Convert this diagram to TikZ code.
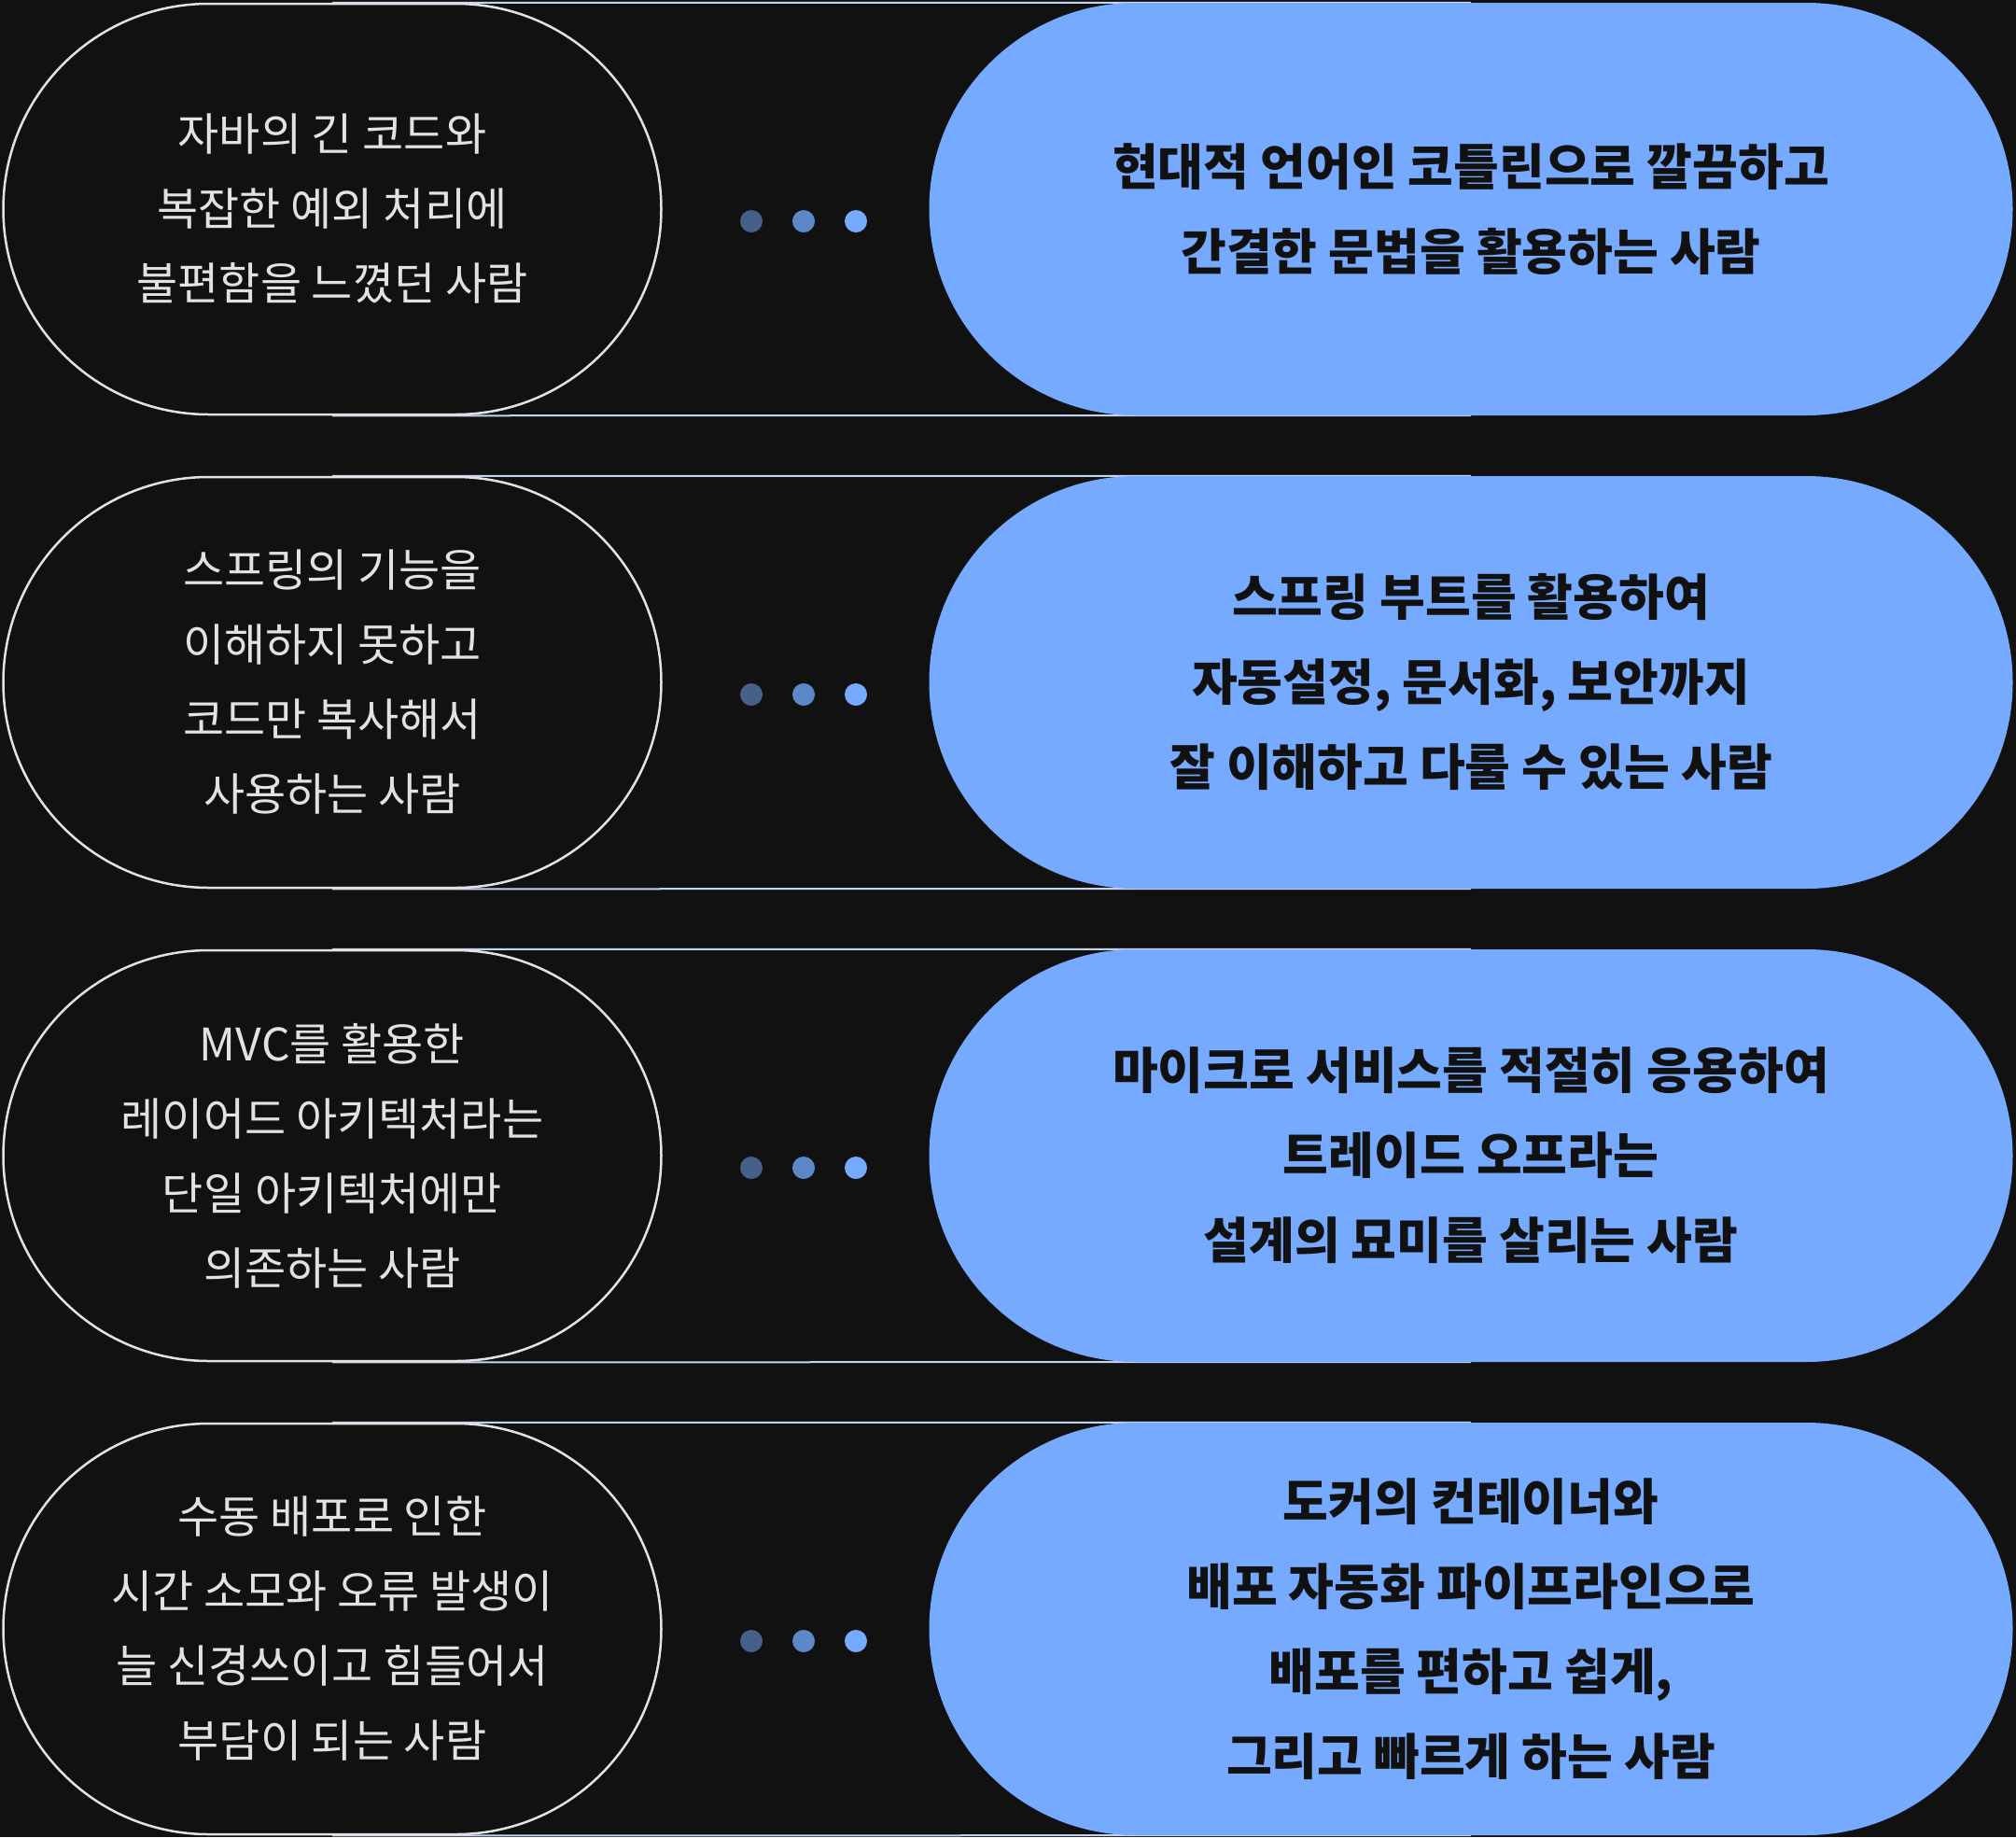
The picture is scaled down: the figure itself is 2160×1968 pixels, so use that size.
\documentclass[tikz,border=0pt]{standalone}
\usepackage{fontspec}
\setmainfont{Noto Sans CJK KR}
\usetikzlibrary{positioning,backgrounds}
\definecolor{colorbg}   {RGB}{17,17,17}
\definecolor{colorline} {RGB}{226,226,226}
\definecolor{colorlink} {RGB}{196,212,240}
\definecolor{colorblue} {RGB}{117,170,255}
\definecolor{colordot1} {RGB}{70,96,138}
\definecolor{colordot2} {RGB}{93,136,200}
\definecolor{colortext} {RGB}{17,17,17}

\begin{document}
\begin{tikzpicture}[
    x=1pt, y=-1pt,
    problem/.style={draw=colorline,line width=2.5pt,fill=colorbg,text=colorline,
        minimum width=705pt,minimum height=440pt,rounded corners=220pt,align=center,
        font={\fontsize{48}{80}\selectfont}},
    answer/.style={fill=colorblue,text=colortext,minimum width=1161pt,minimum height=442pt,
        rounded corners=221pt,align=center,font={\fontsize{53}{91}\selectfont\bfseries}},
    dot/.style={circle,minimum size=24pt,inner sep=0pt},
    link/.style={draw=colorlink,line width=2pt},
]
    \useasboundingbox (0,0) rectangle (2160,1968);

    % Problems
    \node[problem] (java)   at (356,224)  {자바의 긴 코드와\\복잡한 예외 처리에\\불편함을 느꼈던 사람};
    \node[problem] (spring) at (356,731)  {스프링의 기능을\\이해하지 못하고\\코드만 복사해서\\사용하는 사람};
    \node[problem] (mvc)    at (356,1238) {MVC를 활용한\\레이어드 아키텍처라는\\단일 아키텍처에만\\의존하는 사람};
    \node[problem] (deploy) at (356,1745) {수동 배포로 인한\\시간 소모와 오류 발생이\\늘 신경쓰이고 힘들어서\\부담이 되는 사람};

    % Answers
    \node[answer] (kotlin) at (1576,224)  {현대적 언어인 코틀린으로 깔끔하고\\간결한 문법을 활용하는 사람};
    \node[answer] (boot)   at (1576,731)  {스프링 부트를 활용하여\\자동설정, 문서화, 보안까지\\잘 이해하고 다룰 수 있는 사람};
    \node[answer] (msa)    at (1576,1238) {마이크로 서비스를 적절히 응용하여\\트레이드 오프라는\\설계의 묘미를 살리는 사람};
    \node[answer] (docker) at (1576,1745) {도커의 컨테이너와\\배포 자동화 파이프라인으로\\배포를 편하고 쉽게,\\그리고 빠르게 하는 사람};

    % Dots
    \node[dot,fill=colordot1] (dotja) at (805,237)  {};
    \node[dot,fill=colordot2] (dotjb) at (861,237)  {};
    \node[dot,fill=colorblue] (dotjc) at (917,237)  {};
    \node[dot,fill=colordot1] (dotsa) at (805,744)  {};
    \node[dot,fill=colordot2] (dotsb) at (861,744)  {};
    \node[dot,fill=colorblue] (dotsc) at (917,744)  {};
    \node[dot,fill=colordot1] (dotma) at (805,1251) {};
    \node[dot,fill=colordot2] (dotmb) at (861,1251) {};
    \node[dot,fill=colorblue] (dotmc) at (917,1251) {};
    \node[dot,fill=colordot1] (dotda) at (805,1758) {};
    \node[dot,fill=colordot2] (dotdb) at (861,1758) {};
    \node[dot,fill=colorblue] (dotdc) at (917,1758) {};

    % Links and background
    \begin{scope}[on background layer]
        \fill[colorbg] (0,0) rectangle (2160,1968);
        \draw[link] (java.north)   -- (kotlin.north);
        \draw[link] (java.south)   -- (kotlin.south);
        \draw[link] (spring.north) -- (boot.north);
        \draw[link] (spring.south) -- (boot.south);
        \draw[link] (mvc.north)    -- (msa.north);
        \draw[link] (mvc.south)    -- (msa.south);
        \draw[link] (deploy.north) -- (docker.north);
        \draw[link] (deploy.south) -- (docker.south);
    \end{scope}
\end{tikzpicture}
\end{document}
